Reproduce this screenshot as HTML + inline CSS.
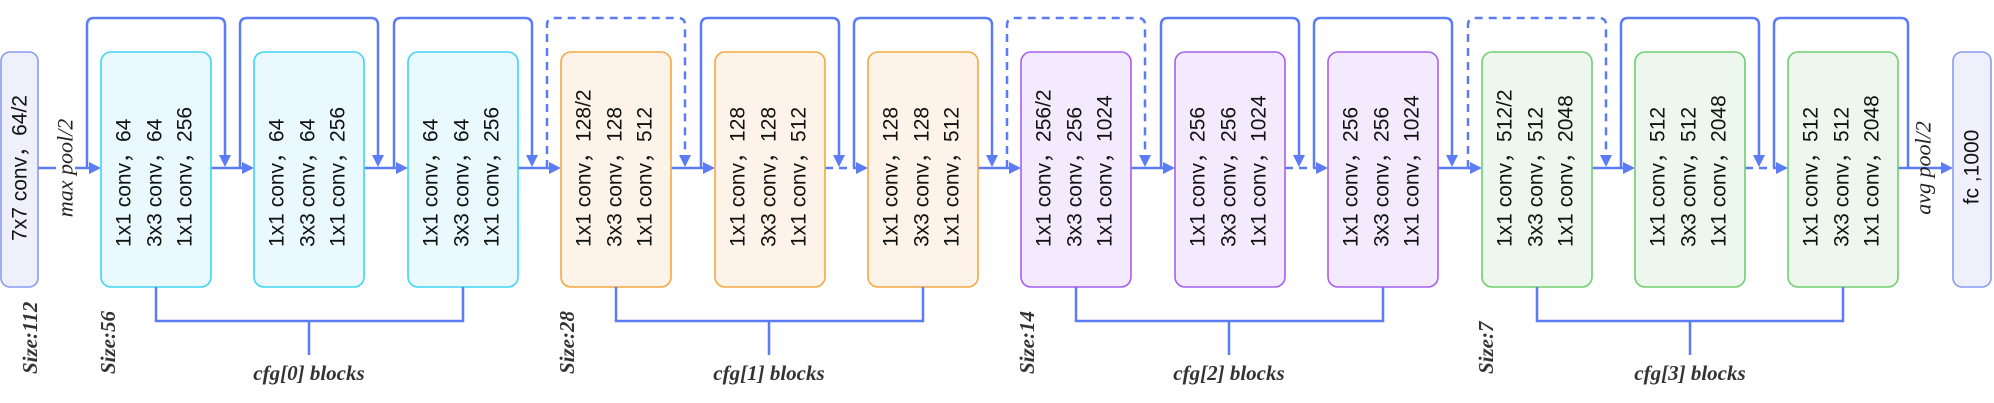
<!DOCTYPE html>
<html><head><meta charset="utf-8"><style>
html,body{margin:0;padding:0;background:#fff;width:1994px;height:403px;overflow:hidden}
svg{display:block}
.t{font-family:"Liberation Sans","Noto Sans CJK SC",sans-serif;font-size:21px;fill:#111}
.s{font-family:"Liberation Serif","DejaVu Serif",serif;font-style:italic;font-size:22px;fill:#222}
.b{font-family:"Liberation Serif","DejaVu Serif",serif;font-style:italic;font-weight:bold;font-size:21px;fill:#333}
.ln{fill:none;stroke:#5b7cf5;stroke-width:2.5}
.d{stroke-dasharray:8 6}
.ar{fill:#5b7cf5}
.c{fill:#e9f9fd;stroke:#3dd6f5;stroke-width:1.6}
.o{fill:#fdf3e8;stroke:#f5a742;stroke-width:1.6}
.p{fill:#f4eafd;stroke:#a55ff0;stroke-width:1.6}
.g{fill:#edf7ed;stroke:#6fcf6f;stroke-width:1.6}
.i{fill:#eef0fb;stroke:#8a9cf0;stroke-width:1.6}
</style></head><body>
<svg width="1994" height="403" viewBox="0 0 1994 403" xmlns="http://www.w3.org/2000/svg">
<rect class="i" x="1" y="52" width="37" height="235" rx="9"/>
<text class="t" transform="translate(20,168) rotate(-90)" text-anchor="middle" dominant-baseline="central">7x7 conv，64/2</text>
<rect class="i" x="1953" y="52" width="38" height="235" rx="9"/>
<text class="t" transform="translate(1972,167) rotate(-90)" text-anchor="middle" dominant-baseline="central">fc ,1000</text>

<path class="ln" d="M38 168 H90"/><polygon class="ar" points="101,168 89,162 89,174"/>
<path class="ln" d="M211 168 H243"/><polygon class="ar" points="254,168 242,162 242,174"/>
<path class="ln" d="M364 168 H397"/><polygon class="ar" points="408,168 396,162 396,174"/>
<path class="ln" d="M518 168 H550"/><polygon class="ar" points="561,168 549,162 549,174"/>
<path class="ln" d="M671 168 H704"/><polygon class="ar" points="715,168 703,162 703,174"/>
<path class="ln d" d="M825 168 H857"/><polygon class="ar" points="868,168 856,162 856,174"/>
<path class="ln" d="M978 168 H1010"/><polygon class="ar" points="1021,168 1009,162 1009,174"/>
<path class="ln" d="M1131 168 H1164"/><polygon class="ar" points="1175,168 1163,162 1163,174"/>
<path class="ln d" d="M1285 168 H1317"/><polygon class="ar" points="1328,168 1316,162 1316,174"/>
<path class="ln" d="M1438 168 H1471"/><polygon class="ar" points="1482,168 1470,162 1470,174"/>
<path class="ln" d="M1592 168 H1624"/><polygon class="ar" points="1635,168 1623,162 1623,174"/>
<path class="ln d" d="M1745 168 H1777"/><polygon class="ar" points="1788,168 1776,162 1776,174"/>
<path class="ln" d="M1898 168 H1942"/><polygon class="ar" points="1953,168 1941,162 1941,174"/>

<g>
<path class="ln" d="M87 168 V25 Q87 18 94 18 H218 Q225 18 225 25 V156"/><polygon class="ar" points="225,167 219,155 231,155"/>
<path class="ln" d="M240 168 V25 Q240 18 247 18 H371 Q378 18 378 25 V156"/><polygon class="ar" points="378,167 372,155 384,155"/>
<path class="ln" d="M394 168 V25 Q394 18 401 18 H525 Q532 18 532 25 V156"/><polygon class="ar" points="532,167 526,155 538,155"/>
<path class="ln d" d="M547 168 V25 Q547 18 554 18 H678 Q685 18 685 25 V156"/><polygon class="ar" points="685,167 679,155 691,155"/>
<path class="ln" d="M701 168 V25 Q701 18 708 18 H832 Q839 18 839 25 V156"/><polygon class="ar" points="839,167 833,155 845,155"/>
<path class="ln" d="M854 168 V25 Q854 18 861 18 H985 Q992 18 992 25 V156"/><polygon class="ar" points="992,167 986,155 998,155"/>
<path class="ln d" d="M1007 168 V25 Q1007 18 1014 18 H1138 Q1145 18 1145 25 V156"/><polygon class="ar" points="1145,167 1139,155 1151,155"/>
<path class="ln" d="M1161 168 V25 Q1161 18 1168 18 H1292 Q1299 18 1299 25 V156"/><polygon class="ar" points="1299,167 1293,155 1305,155"/>
<path class="ln" d="M1314 168 V25 Q1314 18 1321 18 H1445 Q1452 18 1452 25 V156"/><polygon class="ar" points="1452,167 1446,155 1458,155"/>
<path class="ln d" d="M1468 168 V25 Q1468 18 1475 18 H1599 Q1606 18 1606 25 V156"/><polygon class="ar" points="1606,167 1600,155 1612,155"/>
<path class="ln" d="M1621 168 V25 Q1621 18 1628 18 H1752 Q1759 18 1759 25 V156"/><polygon class="ar" points="1759,167 1753,155 1765,155"/>
<path class="ln" d="M1774 168 V25 Q1774 18 1781 18 H1901 Q1908 18 1908 25 V168"/>
</g>

<rect x="56" y="116" width="19" height="106" fill="#fff"/>
<text class="s" transform="translate(65,168) rotate(-90)" text-anchor="middle" dominant-baseline="central">max pool/2</text>
<text class="s" transform="translate(1923,168) rotate(-90)" text-anchor="middle" dominant-baseline="central">avg pool/2</text>

<g>
<rect class="c" x="101" y="52" width="110" height="235" rx="10"/>
<text class="t" transform="translate(124,247) rotate(-90)" dominant-baseline="central">1x1 conv，64</text>
<text class="t" transform="translate(155,247) rotate(-90)" dominant-baseline="central">3x3 conv，64</text>
<text class="t" transform="translate(185,247) rotate(-90)" dominant-baseline="central">1x1 conv，256</text>

<rect class="c" x="254" y="52" width="110" height="235" rx="10"/>
<text class="t" transform="translate(277,247) rotate(-90)" dominant-baseline="central">1x1 conv，64</text>
<text class="t" transform="translate(308,247) rotate(-90)" dominant-baseline="central">3x3 conv，64</text>
<text class="t" transform="translate(338,247) rotate(-90)" dominant-baseline="central">1x1 conv，256</text>

<rect class="c" x="408" y="52" width="110" height="235" rx="10"/>
<text class="t" transform="translate(431,247) rotate(-90)" dominant-baseline="central">1x1 conv，64</text>
<text class="t" transform="translate(462,247) rotate(-90)" dominant-baseline="central">3x3 conv，64</text>
<text class="t" transform="translate(492,247) rotate(-90)" dominant-baseline="central">1x1 conv，256</text>

<rect class="o" x="561" y="52" width="110" height="235" rx="10"/>
<text class="t" transform="translate(584,247) rotate(-90)" dominant-baseline="central">1x1 conv，128/2</text>
<text class="t" transform="translate(615,247) rotate(-90)" dominant-baseline="central">3x3 conv，128</text>
<text class="t" transform="translate(645,247) rotate(-90)" dominant-baseline="central">1x1 conv，512</text>

<rect class="o" x="715" y="52" width="110" height="235" rx="10"/>
<text class="t" transform="translate(738,247) rotate(-90)" dominant-baseline="central">1x1 conv，128</text>
<text class="t" transform="translate(769,247) rotate(-90)" dominant-baseline="central">3x3 conv，128</text>
<text class="t" transform="translate(799,247) rotate(-90)" dominant-baseline="central">1x1 conv，512</text>

<rect class="o" x="868" y="52" width="110" height="235" rx="10"/>
<text class="t" transform="translate(891,247) rotate(-90)" dominant-baseline="central">1x1 conv，128</text>
<text class="t" transform="translate(922,247) rotate(-90)" dominant-baseline="central">3x3 conv，128</text>
<text class="t" transform="translate(952,247) rotate(-90)" dominant-baseline="central">1x1 conv，512</text>

<rect class="p" x="1021" y="52" width="110" height="235" rx="10"/>
<text class="t" transform="translate(1044,247) rotate(-90)" dominant-baseline="central">1x1 conv，256/2</text>
<text class="t" transform="translate(1075,247) rotate(-90)" dominant-baseline="central">3x3 conv，256</text>
<text class="t" transform="translate(1105,247) rotate(-90)" dominant-baseline="central">1x1 conv，1024</text>

<rect class="p" x="1175" y="52" width="110" height="235" rx="10"/>
<text class="t" transform="translate(1198,247) rotate(-90)" dominant-baseline="central">1x1 conv，256</text>
<text class="t" transform="translate(1229,247) rotate(-90)" dominant-baseline="central">3x3 conv，256</text>
<text class="t" transform="translate(1259,247) rotate(-90)" dominant-baseline="central">1x1 conv，1024</text>

<rect class="p" x="1328" y="52" width="110" height="235" rx="10"/>
<text class="t" transform="translate(1351,247) rotate(-90)" dominant-baseline="central">1x1 conv，256</text>
<text class="t" transform="translate(1382,247) rotate(-90)" dominant-baseline="central">3x3 conv，256</text>
<text class="t" transform="translate(1412,247) rotate(-90)" dominant-baseline="central">1x1 conv，1024</text>

<rect class="g" x="1482" y="52" width="110" height="235" rx="10"/>
<text class="t" transform="translate(1505,247) rotate(-90)" dominant-baseline="central">1x1 conv，512/2</text>
<text class="t" transform="translate(1536,247) rotate(-90)" dominant-baseline="central">3x3 conv，512</text>
<text class="t" transform="translate(1566,247) rotate(-90)" dominant-baseline="central">1x1 conv，2048</text>

<rect class="g" x="1635" y="52" width="110" height="235" rx="10"/>
<text class="t" transform="translate(1658,247) rotate(-90)" dominant-baseline="central">1x1 conv，512</text>
<text class="t" transform="translate(1689,247) rotate(-90)" dominant-baseline="central">3x3 conv，512</text>
<text class="t" transform="translate(1719,247) rotate(-90)" dominant-baseline="central">1x1 conv，2048</text>

<rect class="g" x="1788" y="52" width="110" height="235" rx="10"/>
<text class="t" transform="translate(1811,247) rotate(-90)" dominant-baseline="central">1x1 conv，512</text>
<text class="t" transform="translate(1842,247) rotate(-90)" dominant-baseline="central">3x3 conv，512</text>
<text class="t" transform="translate(1872,247) rotate(-90)" dominant-baseline="central">1x1 conv，2048</text>
</g>

<path class="ln" d="M156 287 V321 H463 V287 M309 321 V355"/>
<path class="ln" d="M616 287 V321 H923 V287 M769 321 V355"/>
<path class="ln" d="M1076 287 V321 H1383 V287 M1229 321 V355"/>
<path class="ln" d="M1537 287 V321 H1843 V287 M1690 321 V355"/>
<text class="b" x="309" y="380" text-anchor="middle">cfg[0] blocks</text>
<text class="b" x="769" y="380" text-anchor="middle">cfg[1] blocks</text>
<text class="b" x="1229" y="380" text-anchor="middle">cfg[2] blocks</text>
<text class="b" x="1690" y="380" text-anchor="middle">cfg[3] blocks</text>

<text class="b" transform="translate(30,374) rotate(-90)" dominant-baseline="central">Size:112</text>
<text class="b" transform="translate(108,374) rotate(-90)" dominant-baseline="central">Size:56</text>
<text class="b" transform="translate(567,374) rotate(-90)" dominant-baseline="central">Size:28</text>
<text class="b" transform="translate(1027,374) rotate(-90)" dominant-baseline="central">Size:14</text>
<text class="b" transform="translate(1486,374) rotate(-90)" dominant-baseline="central">Size:7</text>
</svg>
</body></html>
